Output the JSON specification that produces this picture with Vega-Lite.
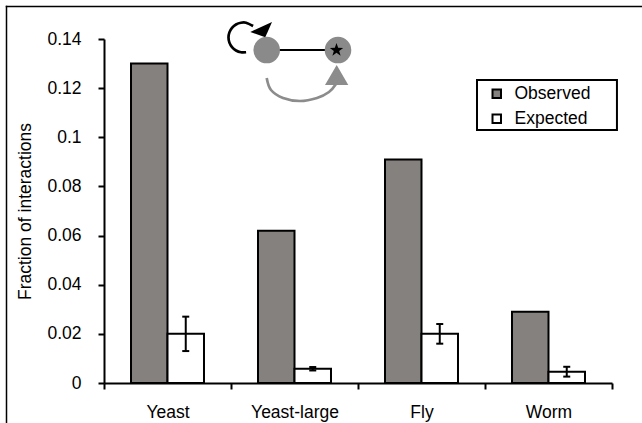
{
  "$schema": "https://vega.github.io/schema/vega-lite/v6.json",
  "width": 508,
  "height": 344,
  "autosize": {"type": "none"},
  "padding": {"left": 104, "top": 39, "right": 30, "bottom": 40},
  "background": "white",
  "config": {
    "view": {"stroke": null},
    "font": "Liberation Sans"
  },
  "datasets": {
    "bars": [
      {"species": "Yeast", "type": "Observed", "value": 0.130},
      {"species": "Yeast", "type": "Expected", "value": 0.020, "lo": 0.013, "hi": 0.027},
      {"species": "Yeast-large", "type": "Observed", "value": 0.062},
      {"species": "Yeast-large", "type": "Expected", "value": 0.0058, "lo": 0.0051, "hi": 0.0065},
      {"species": "Fly", "type": "Observed", "value": 0.091},
      {"species": "Fly", "type": "Expected", "value": 0.020, "lo": 0.016, "hi": 0.024},
      {"species": "Worm", "type": "Observed", "value": 0.029},
      {"species": "Worm", "type": "Expected", "value": 0.0046, "lo": 0.0026, "hi": 0.0066}
    ],
    "frame": [
      {"u": -0.7677, "v": 0.15324, "u2": 4.2362, "v2": 0.15324},
      {"u": -0.7677, "v": 0.15324, "u2": -0.7677, "v2": -0.0163}
    ],
    "legendbox": [
      {"u": 2.937, "v": 0.12332, "u2": 4.039, "v2": 0.10297}
    ],
    "edge": [
      {"u": 1.2811, "v": 0.1355, "u2": 1.8425, "v2": 0.1355}
    ],
    "curve": [
      {"i": 1, "u": 1.2811, "v": 0.12413},
      {"i": 2, "u": 1.3150, "v": 0.11925},
      {"i": 3, "u": 1.4094, "v": 0.11600},
      {"i": 4, "u": 1.5433, "v": 0.11477},
      {"i": 5, "u": 1.6772, "v": 0.11600},
      {"i": 6, "u": 1.7717, "v": 0.11844},
      {"i": 7, "u": 1.8268, "v": 0.12169}
    ],
    "curvehead": [{"u": 1.8323, "v": 0.12401}],
    "loop": [
      {"i": 1, "u": 1.1189, "v": 0.13461},
      {"i": 2, "u": 1.0780, "v": 0.13461},
      {"i": 3, "u": 1.0394, "v": 0.13533},
      {"i": 4, "u": 1.0080, "v": 0.13670},
      {"i": 5, "u": 0.9874, "v": 0.13853},
      {"i": 6, "u": 0.9803, "v": 0.14062},
      {"i": 7, "u": 0.9874, "v": 0.14271},
      {"i": 8, "u": 1.0080, "v": 0.14454},
      {"i": 9, "u": 1.0394, "v": 0.14591},
      {"i": 10, "u": 1.0780, "v": 0.14663},
      {"i": 11, "u": 1.1189, "v": 0.14663},
      {"i": 12, "u": 1.1740, "v": 0.14530}
    ],
    "loophead": [{"u": 1.2480, "v": 0.14351}],
    "nodes": [
      {"u": 1.2811, "v": 0.1355},
      {"u": 1.8425, "v": 0.1355}
    ],
    "star": [{"u": 1.8307, "v": 0.1355}]
  },
  "layer": [
    {
      "data": {"name": "bars"},
      "encoding": {
        "x": {
          "field": "species",
          "type": "nominal",
          "sort": ["Yeast", "Yeast-large", "Fly", "Worm"],
          "scale": {"paddingInner": 0, "paddingOuter": 0},
          "axis": {
            "title": null,
            "labelAngle": 0,
            "tickBand": "extent",
            "domainColor": "black",
            "domainWidth": 2,
            "tickColor": "black",
            "tickWidth": 2,
            "tickSize": 6,
            "labelFontSize": 17.5,
            "labelColor": "black",
            "labelPadding": 14
          }
        },
        "xOffset": {
          "field": "type",
          "type": "nominal",
          "scale": {"domain": ["Observed", "Expected"], "paddingInner": 0, "paddingOuter": 0.74}
        }
      },
      "layer": [
        {
          "mark": {"type": "bar", "stroke": "black", "strokeWidth": 2, "opacity": 1},
          "encoding": {
            "y": {
              "field": "value",
              "type": "quantitative",
              "scale": {"domain": [0, 0.14], "nice": false, "zero": true},
              "axis": {
                "values": [0, 0.02, 0.04, 0.06, 0.08, 0.1, 0.12, 0.14],
                "format": "~g",
                "title": "Fraction of interactions",
                "grid": false,
                "domainColor": "black",
                "domainWidth": 2,
                "tickColor": "black",
                "tickWidth": 2,
                "tickSize": 6,
                "labelFontSize": 17.5,
                "labelColor": "black",
                "labelPadding": 17,
                "titleFontSize": 17.5,
                "titleFontWeight": "normal",
                "titleColor": "black",
                "titlePadding": 12
              }
            },
            "fill": {
              "field": "type",
              "type": "nominal",
              "scale": {"domain": ["Observed", "Expected"], "range": ["#85817e", "#ffffff"]},
              "legend": {
                "title": null,
                "orient": "none",
                "legendX": 373,
                "legendY": 41,
                "padding": 5,
                "strokeColor": null,
                "symbolType": "square",
                "symbolSize": 72,
                "symbolStrokeColor": "black",
                "symbolStrokeWidth": 2,
                "symbolOpacity": 1,
                "symbolOffset": 6,
                "labelOffset": 9,
                "labelFontSize": 17.5,
                "labelColor": "black",
                "rowPadding": 6
              }
            }
          }
        },
        {
          "transform": [{"filter": "datum.lo != null"}],
          "mark": {"type": "rule", "color": "black", "strokeWidth": 2},
          "encoding": {
            "y": {"field": "lo", "type": "quantitative"},
            "y2": {"field": "hi"}
          }
        },
        {
          "transform": [{"filter": "datum.lo != null"}],
          "mark": {"type": "tick", "color": "black", "thickness": 2, "size": 7, "opacity": 1},
          "encoding": {
            "y": {"field": "lo", "type": "quantitative"}
          }
        },
        {
          "transform": [{"filter": "datum.hi != null"}],
          "mark": {"type": "tick", "color": "black", "thickness": 2, "size": 7, "opacity": 1},
          "encoding": {
            "y": {"field": "hi", "type": "quantitative"}
          }
        }
      ]
    },
    {
      "encoding": {
        "x": {"field": "u", "type": "quantitative", "scale": {"domain": [0, 4], "nice": false, "zero": false}, "axis": null},
        "y": {"field": "v", "type": "quantitative", "scale": {"domain": [0, 0.14], "nice": false, "zero": false}, "axis": null}
      },
      "layer": [
        {
          "data": {"name": "frame"},
          "mark": {"type": "rule", "color": "black", "strokeWidth": 1.5, "strokeCap": "square"},
          "encoding": {"x2": {"field": "u2"}, "y2": {"field": "v2"}}
        },
        {
          "data": {"name": "legendbox"},
          "mark": {"type": "rect", "fill": null, "fillOpacity": 0, "stroke": "black", "strokeWidth": 2},
          "encoding": {"x2": {"field": "u2"}, "y2": {"field": "v2"}}
        },
        {
          "data": {"name": "curve"},
          "mark": {"type": "line", "color": "#8c8c8c", "strokeWidth": 2.7, "interpolate": "cardinal"},
          "encoding": {"order": {"field": "i", "type": "quantitative"}}
        },
        {
          "data": {"name": "curvehead"},
          "mark": {"type": "point", "shape": "M0,-13.3L11.6,6.7L-11.7,6.7Z", "size": 4, "filled": true, "color": "#8c8c8c", "opacity": 1, "strokeWidth": 0},
          "encoding": {}
        },
        {
          "data": {"name": "edge"},
          "mark": {"type": "rule", "color": "black", "strokeWidth": 2},
          "encoding": {"x2": {"field": "u2"}, "y2": {"field": "v2"}}
        },
        {
          "data": {"name": "loop"},
          "mark": {"type": "line", "color": "black", "strokeWidth": 2.7, "interpolate": "cardinal"},
          "encoding": {"order": {"field": "i", "type": "quantitative"}}
        },
        {
          "data": {"name": "loophead"},
          "mark": {"type": "point", "shape": "M-12.2,1.6L9.5,-8.4L2.8,6.9Z", "size": 4, "filled": true, "color": "black", "opacity": 1, "strokeWidth": 0},
          "encoding": {}
        },
        {
          "data": {"name": "nodes"},
          "mark": {"type": "circle", "size": 707, "color": "#8a8a8a", "opacity": 1},
          "encoding": {}
        },
        {
          "data": {"name": "star"},
          "mark": {"type": "point", "shape": "M0,-7L1.65,-2.26L6.66,-2.16L2.66,0.86L4.11,5.66L0,2.8L-4.11,5.66L-2.66,0.86L-6.66,-2.16L-1.65,-2.26Z", "size": 4, "filled": true, "color": "black", "opacity": 1, "strokeWidth": 0},
          "encoding": {}
        }
      ]
    }
  ],
  "resolve": {
    "scale": {"x": "independent", "y": "independent"},
    "axis": {"x": "independent", "y": "independent"}
  }
}
